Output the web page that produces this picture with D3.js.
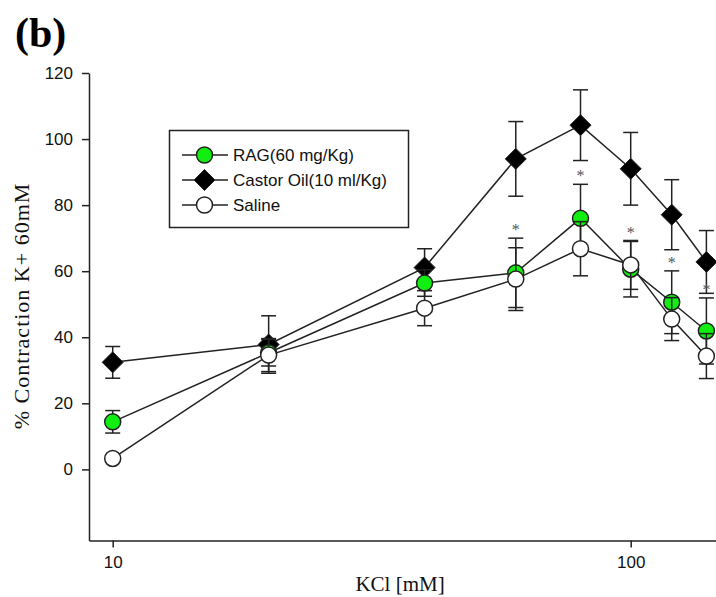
<!DOCTYPE html>
<html>
<head>
<meta charset="utf-8">
<script src="https://cdn.jsdelivr.net/npm/d3@7"></script>
<style>
  body { margin: 0; background: #fff; }
  svg { display: block; }
</style>
</head>
<body>
<div id="chart"></div>
<script>
const width = 716
const height = 597

// KCl concentration (mM)
const kcl = [10, 20, 40, 60, 80, 100, 120, 140]

// % contraction, mean and error
const ragMean = [14.4, 35.3, 56.4, 59.5, 76.0, 60.6, 50.6, 41.9]
const ragErr = [3.4, 4, 4, 10.5, 10.3, 8.4, 9.5, 10]
const castorMean = [32.4, 37.8, 61.1, 94.0, 104.2, 91.0, 77.1, 62.8]
const castorErr = [4.8, 8.7, 5.7, 11.3, 10.7, 11, 10.6, 9.5]
const salineMean = [3.3, 34.6, 48.8, 57.6, 66.8, 61.9, 45.5, 34.3]
const salineErr = [0, 5, 5.3, 9.5, 8.2, 7.4, 6.5, 6.8]

// which RAG points carry a significance star
const ragStar = [false, false, false, true, true, true, true, true]

const yTicks = [0, 20, 40, 60, 80, 100, 120]
const yMin = -21.5
const xTicks = [10, 100]

const series = [
  { name: "RAG(60 mg/Kg)", mean: ragMean, err: ragErr, shape: "circle", fill: "#12ee12" },
  { name: "Castor Oil(10 ml/Kg)", mean: castorMean, err: castorErr, shape: "diamond", fill: "#000" },
  { name: "Saline", mean: salineMean, err: salineErr, shape: "circle", fill: "#fff" }
]

const svg = d3.select("#chart")
  .append("svg")
  .attr("width", width)
  .attr("height", height)

const x = d3.scaleLog()
  .domain([9, 150])
  .range([89, 89 + 518 * Math.log10(150 / 9)])

const y = d3.scaleLinear()
  .domain([yMin, 120])
  .range([469.3 - yMin * 3.307, 73])

const ink = "#222"

// axes
const yAxis = svg.append("g")
  .attr("transform", `translate(${x(9)},0)`)
  .call(d3.axisLeft(y).tickValues(yTicks).tickSize(7).tickSizeOuter(0).tickPadding(9))
yAxis.select(".domain").attr("stroke", ink).attr("stroke-width", 1.5)
yAxis.selectAll(".tick line").attr("stroke", ink).attr("stroke-width", 1.5)
yAxis.selectAll(".tick text")
  .attr("font-family", "Liberation Sans, Arial, sans-serif")
  .attr("font-size", 17)
  .attr("fill", "#111")

const xAxis = svg.append("g")
  .attr("transform", `translate(0,${y(yMin)})`)
  .call(d3.axisBottom(x).tickValues(xTicks).tickFormat(d3.format("d")).tickSize(7).tickSizeOuter(0).tickPadding(9))
xAxis.select(".domain").attr("stroke", ink).attr("stroke-width", 1.5)
xAxis.selectAll(".tick line").attr("stroke", ink).attr("stroke-width", 1.5)
xAxis.selectAll(".tick text")
  .attr("font-family", "Liberation Sans, Arial, sans-serif")
  .attr("font-size", 17)
  .attr("fill", "#111")

// axis titles
svg.append("text")
  .attr("x", 400)
  .attr("y", 591)
  .attr("text-anchor", "middle")
  .attr("font-family", "Liberation Serif, Times New Roman, serif")
  .attr("font-size", 21)
  .attr("fill", "#111")
  .text("KCl [mM]")

svg.append("text")
  .attr("transform", "translate(29,306) rotate(-90)")
  .attr("text-anchor", "middle")
  .attr("font-family", "Liberation Serif, Times New Roman, serif")
  .attr("font-size", 22)
  .attr("letter-spacing", 1)
  .attr("fill", "#111")
  .text("% Contraction K+ 60mM")

svg.append("text")
  .attr("x", 15)
  .attr("y", 47)
  .attr("font-family", "Liberation Serif, Times New Roman, serif")
  .attr("font-weight", "bold")
  .attr("font-size", 42)
  .attr("fill", "#000")
  .text("(b)")

// connecting lines
const line = d3.line()
  .x((d, i) => x(kcl[i]))
  .y(d => y(d))

series.forEach(s => {
  svg.append("path")
    .datum(s.mean)
    .attr("d", line)
    .attr("fill", "none")
    .attr("stroke", ink)
    .attr("stroke-width", 1.5)
})

function drawErrors(s) {
  const g = svg.append("g").attr("stroke", ink).attr("stroke-width", 1.5)
  const pts = s.mean.map((m, i) => ({ x: kcl[i], m: m, e: s.err[i] })).filter(d => d.e > 0)
  g.selectAll("line.v").data(pts).join("line")
    .attr("x1", d => x(d.x)).attr("x2", d => x(d.x))
    .attr("y1", d => y(d.m - d.e)).attr("y2", d => y(d.m + d.e))
  g.selectAll("line.top").data(pts).join("line")
    .attr("x1", d => x(d.x) - 7.5).attr("x2", d => x(d.x) + 7.5)
    .attr("y1", d => y(d.m + d.e)).attr("y2", d => y(d.m + d.e))
  g.selectAll("line.bot").data(pts).join("line")
    .attr("x1", d => x(d.x) - 7.5).attr("x2", d => x(d.x) + 7.5)
    .attr("y1", d => y(d.m - d.e)).attr("y2", d => y(d.m - d.e))
}

const diamond = "M0,-10.5L10.5,0L0,10.5L-10.5,0Z"

function drawMarkers(s, g, data) {
  if (s.shape === "circle") {
    g.selectAll("circle").data(data).join("circle")
      .attr("cx", d => d.cx).attr("cy", d => d.cy).attr("r", 8)
      .attr("fill", s.fill).attr("stroke", ink).attr("stroke-width", 1.5)
  } else {
    g.selectAll("path").data(data).join("path")
      .attr("transform", d => `translate(${d.cx},${d.cy})`)
      .attr("d", diamond)
      .attr("fill", s.fill).attr("stroke", ink).attr("stroke-width", 1)
  }
}

function markerData(s) {
  return s.mean.map((m, i) => ({ cx: x(kcl[i]), cy: y(m) }))
}

// draw order: castor, RAG, saline
const [rag, castor, saline] = series

drawErrors(castor)
drawMarkers(castor, svg.append("g"), markerData(castor))

drawErrors(rag)
drawMarkers(rag, svg.append("g"), markerData(rag))

drawErrors(saline)
drawMarkers(saline, svg.append("g"), markerData(saline))

// significance stars above RAG error bars
svg.append("g").selectAll("text")
  .data(ragMean.map((m, i) => ({ x: kcl[i], top: m + ragErr[i], star: ragStar[i] })).filter(d => d.star))
  .join("text")
  .attr("x", d => x(d.x))
  .attr("y", d => y(d.top) - 3)
  .attr("text-anchor", "middle")
  .attr("font-family", "Liberation Serif, Times New Roman, serif")
  .attr("font-size", 16)
  .attr("fill", "#555")
  .text("*")

// legend
const legend = svg.append("g")
legend.append("rect")
  .attr("x", 169.5).attr("y", 130.5)
  .attr("width", 239).attr("height", 97)
  .attr("fill", "#fff").attr("stroke", ink).attr("stroke-width", 1.5)

const legendRows = legend.selectAll("g.row")
  .data(series)
  .join("g")
  .attr("transform", (d, i) => `translate(0,${155 + i * 25})`)

legendRows.append("line")
  .attr("x1", 182).attr("x2", 228)
  .attr("stroke", ink).attr("stroke-width", 1.5)

legendRows.each(function (s) {
  drawMarkers(s, d3.select(this).append("g"), [{ cx: 204.5, cy: 0 }])
})

legendRows.append("text")
  .attr("x", 233)
  .attr("y", 0)
  .attr("dy", "0.35em")
  .attr("font-family", "Liberation Sans, Arial, sans-serif")
  .attr("font-size", 17)
  .attr("fill", "#111")
  .text(d => d.name)
</script>
</body>
</html>
